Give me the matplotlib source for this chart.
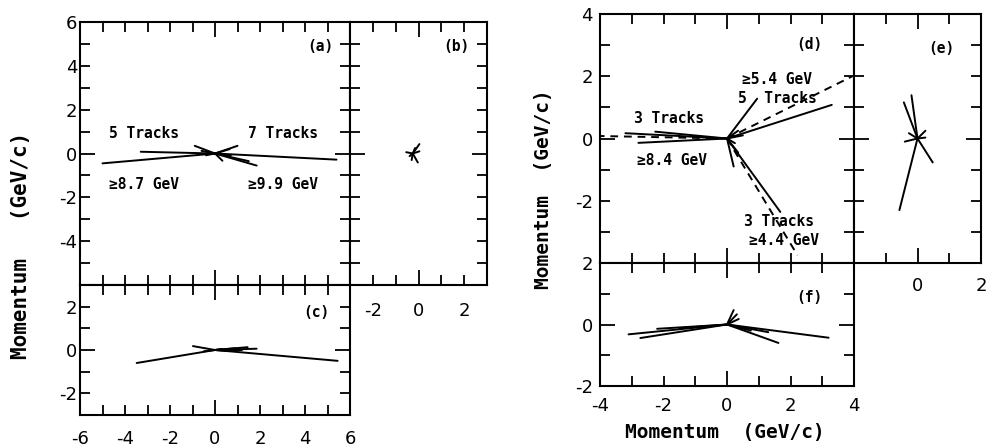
import matplotlib
matplotlib.use("Agg")
import matplotlib.pyplot as plt

plt.rcParams["axes.unicode_minus"] = False

# ---- track momentum components (GeV/c), measured from each event vertex ----
# (a) / (c): 12-track event, two projections
a_px = [-5.0, -3.3, -0.9, -0.6, -0.4, 5.4, 1.85, 1.5, 1.0, 0.65, 0.33, 0.7]
a_py = [-0.45, 0.08, 0.35, 0.12, -0.08, -0.28, -0.55, -0.35, 0.35, 0.2, -0.33, -0.1]
c_px = [-3.48, -0.98, -0.5, 5.45, 1.85, 1.45, 1.2, 0.9, 0.6, 0.3, 1.0]
c_py = [-0.6, 0.18, -0.06, -0.5, 0.06, 0.13, 0.0, 0.08, -0.05, 0.05, 0.04]
# (b): third projection, small transverse momenta
b_vertex = (-0.25, 0.0)
b_px = [0.29, 0.22, -0.29, -0.14, 0.1, 0.29, -0.05]
b_py = [0.43, -0.41, 0.06, -0.12, 0.25, 0.1, -0.3]

# (d) / (e) / (f): three-jet event
d_px = [-3.2, -2.26, -2.79, 3.3, 0.95, 0.35, 0.5, 0.25, 1.68, 0.21, 0.35]
d_py = [0.17, 0.22, -0.14, 1.08, 1.28, 0.25, 0.1, -0.15, -2.36, -0.9, -0.45]
d_jet_px = [-4.0, 3.95, 2.22]
d_jet_py = [0.08, 2.0, -3.75]
e_px = [-0.19, -0.43, -0.57, 0.48, -0.4, 0.25, -0.27, 0.25]
e_py = [1.39, 1.16, -2.3, -0.77, -0.1, 0.25, 0.17, 0.03]
f_px = [-3.1, -2.73, -2.2, -1.5, 3.2, 1.62, 0.21, 0.37, 0.31, 1.3, 0.75]
f_py = [-0.32, -0.44, -0.14, -0.12, -0.43, -0.6, 0.47, 0.18, 0.33, -0.25, -0.2]

# jet annotations
a_notes = ["5 Tracks", "7 Tracks", "\u22658.7 GeV", "\u22659.9 GeV"]
a_note_x = [-3.14, 3.03, -3.14, 3.03]
a_note_y = [0.92, 0.92, -1.42, -1.42]
d_notes = ["\u22655.4 GeV", "5  Tracks", "3 Tracks", "\u22658.4 GeV", "3 Tracks", "\u22654.4 GeV"]
d_note_x = [1.56, 1.6, -1.83, -1.73, 1.64, 1.78]
d_note_y = [1.9, 1.29, 0.63, -0.7, -2.67, -3.28]

W, H = 989, 448
fig = plt.figure(figsize=(W / 100, H / 100), dpi=100)


def box(x0, y0, x1, y1):
    return [x0 / W, (H - y1) / H, (x1 - x0) / W, (y1 - y0) / H]


MONO = "DejaVu Sans Mono"


def setup(ax, xlim, ylim, xlab, ylab, xpad=10, ypad=2):
    ax.set_xlim(*xlim)
    ax.set_ylim(*ylim)
    xt = list(range(int(xlim[0]), int(xlim[1]) + 1))
    yt = list(range(int(ylim[0]), int(ylim[1]) + 1))
    ax.set_xticks(xt)
    ax.set_yticks(yt)
    ax.set_xticklabels([str(v) if v in xlab else "" for v in xt])
    ax.set_yticklabels([str(v) if v in ylab else "" for v in yt])
    ax.tick_params(axis="both", direction="in", top=True, right=True,
                   length=7, width=1.3, labelsize=13, colors="black")
    ax.tick_params(axis="x", pad=xpad)
    ax.tick_params(axis="y", pad=ypad)
    for t, v in zip(ax.xaxis.get_major_ticks(), xt):
        if v == 0:
            t.tick1line.set_markersize(11)
            t.tick2line.set_markersize(11)
    for t, v in zip(ax.yaxis.get_major_ticks(), yt):
        if v == 0:
            t.tick1line.set_markersize(11)
            t.tick2line.set_markersize(11)
    for s in ax.spines.values():
        s.set_linewidth(1.5)


def tracks(ax, px, py, vertex=(0.0, 0.0), **kw):
    vx, vy = vertex
    for x, y in zip(px, py):
        ax.plot([vx, vx + x], [vy, vy + y], color="black", lw=1.4,
                solid_capstyle="round", **kw)


def tag(ax, s, x, y):
    ax.text(x, y, s, transform=ax.transAxes, ha="center", va="center",
            fontsize=10.5, family=MONO, weight="bold")


# left event
ax_a = fig.add_axes(box(80, 22, 350, 285))
ax_b = fig.add_axes(box(350, 22, 487, 285))
ax_c = fig.add_axes(box(80, 285, 350, 415))
setup(ax_a, (-6, 6), (-6, 6), [], [-4, -2, 0, 2, 4, 6])
setup(ax_b, (-3, 3), (-6, 6), [-2, 0, 2], [], xpad=12)
setup(ax_c, (-6, 6), (-3, 3), [-6, -4, -2, 0, 2, 4, 6], [-2, 0, 2], xpad=11)
tracks(ax_a, a_px, a_py)
tracks(ax_b, b_px, b_py, vertex=b_vertex)
tracks(ax_c, c_px, c_py)
for s, x, y in zip(a_notes, a_note_x, a_note_y):
    ax_a.text(x, y, s, ha="center", va="center", fontsize=10.5, family=MONO, weight="bold")
tag(ax_a, "(a)", 0.889, 0.905)
tag(ax_b, "(b)", 0.774, 0.905)
tag(ax_c, "(c)", 0.874, 0.79)
fig.text(21 / W, 1 - 245 / H, "Momentum   (GeV/c)", rotation=90, ha="center",
         va="center", fontsize=15, family=MONO, weight="bold")

# right event
ax_d = fig.add_axes(box(600, 14, 854, 263))
ax_e = fig.add_axes(box(854, 14, 981, 263))
ax_f = fig.add_axes(box(600, 263, 854, 386))
setup(ax_d, (-4, 4), (-4, 4), [], [-2, 0, 2, 4], ypad=5)
setup(ax_e, (-2, 2), (-4, 4), [0, 2], [], xpad=10)
setup(ax_f, (-4, 4), (-2, 2), [-4, -2, 0, 2, 4], [-2, 0, 2], xpad=8, ypad=5)
tracks(ax_d, d_px, d_py)
tracks(ax_d, d_jet_px, d_jet_py, linestyle=(0, (4, 3)))
tracks(ax_e, e_px, e_py)
tracks(ax_f, f_px, f_py)
for s, x, y in zip(d_notes, d_note_x, d_note_y):
    ax_d.text(x, y, s, ha="center", va="center", fontsize=10.5, family=MONO, weight="bold")
tag(ax_d, "(d)", 0.825, 0.876)
tag(ax_e, "(e)", 0.685, 0.863)
tag(ax_f, "(f)", 0.823, 0.72)
fig.text(543 / W, 1 - 189 / H, "Momentum  (GeV/c)", rotation=90, ha="center",
         va="center", fontsize=14, family=MONO, weight="bold")
fig.text(725 / W, 1 - 432 / H, "Momentum  (GeV/c)", ha="center",
         va="center", fontsize=14, family=MONO, weight="bold")

fig.savefig("out.png", dpi=100, facecolor="white")
